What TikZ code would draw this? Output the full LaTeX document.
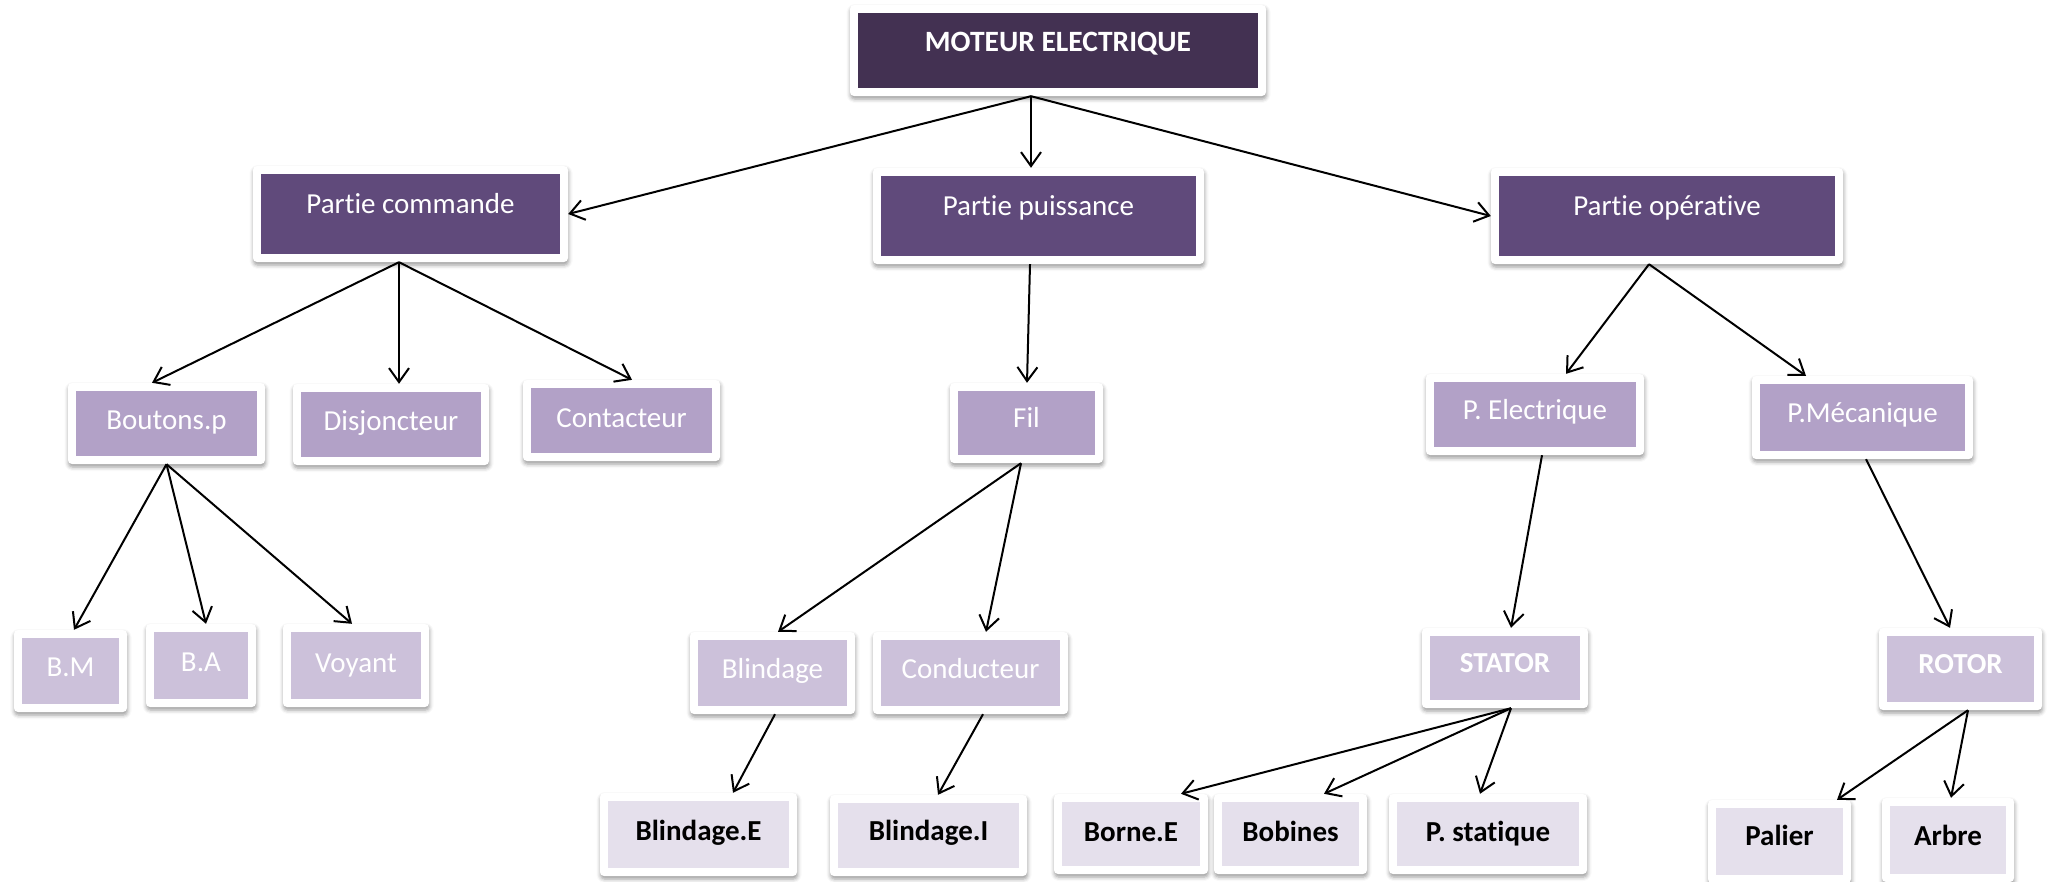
\documentclass[tikz,border=0pt]{standalone}
\usepackage{fontspec}
\setmainfont{Carlito}[Ligatures=NoCommon]
\usetikzlibrary{arrows.meta,shadows.blur}

\definecolor{topfill}{HTML}{433152}
\definecolor{lvonefill}{HTML}{604A7B}
\definecolor{lvtwofill}{HTML}{B2A1C7}
\definecolor{lvthreefill}{HTML}{CCC1DA}
\definecolor{lvfourfill}{HTML}{E5E0EC}

\tikzset{
  frame/.style={fill=white, draw=none, rounded corners=4pt, inner sep=0pt,
    blur shadow={shadow xshift=0.5pt, shadow yshift=-3pt,
      shadow blur radius=4pt, shadow opacity=40}},
  lvtop/.style={fill=topfill},
  lvone/.style={fill=lvonefill},
  lvtwo/.style={fill=lvtwofill},
  lvthree/.style={fill=lvthreefill},
  lvfour/.style={fill=lvfourfill},
  basetext/.style={anchor=base, inner sep=0pt, font=\fontsize{29}{31}\selectfont},
  lvtoptext/.style={basetext, text=white, font=\fontsize{29.5}{31}\selectfont\bfseries},
  lvonetext/.style={basetext, text=white},
  lvtwotext/.style={basetext, text=white},
  lvthreetext/.style={basetext, text=white},
  lvthreeboldtext/.style={basetext, text=white, font=\fontsize{29}{31}\selectfont\bfseries},
  lvfourtext/.style={basetext, text=black, font=\fontsize{29}{31}\selectfont\bfseries},
  arr/.style={-{Straight Barb[length=14pt,width=20pt]}, line width=2pt, black},
}

% #1 level, #2 name, #3 cx, #4 cy, #5 width, #6 height, #7 baseline offset, #8 label
\newcommand\partbox[8]{%
  \node[frame, minimum width=#5pt+16pt, minimum height=#6pt+16pt] (#2-f) at (#3,#4) {};
  \node[#1, inner sep=0pt, minimum width=#5pt, minimum height=#6pt] (#2) at (#3,#4) {};
  \node[#1text] (#2-t) at (#3,#4+#7) {#8};
}
\newcommand\partboxb[8]{%
  \node[frame, minimum width=#5pt+16pt, minimum height=#6pt+16pt] (#2-f) at (#3,#4) {};
  \node[#1, inner sep=0pt, minimum width=#5pt, minimum height=#6pt] (#2) at (#3,#4) {};
  \node[#1boldtext] (#2-t) at (#3,#4+#7) {#8};
}

\begin{document}
\begin{tikzpicture}[x=1pt, y=-1pt]
  \useasboundingbox (0,0) rectangle (2049,881);

  % root
  \partbox{lvtop}{top}{1058}{50.5}{400}{75}{0.5}{MOTEUR ELECTRIQUE}

  % first level
  \partbox{lvone}{pc}{410.5}{214}{299}{80}{-1}{Partie commande}
  \partbox{lvone}{pp}{1038.5}{216}{315}{80}{-1}{Partie puissance}
  \partbox{lvone}{po}{1667}{216}{336}{80}{-1}{Partie opérative}

  % second level
  \partbox{lvtwo}{bp}{166.5}{423.5}{181}{65}{5.5}{Boutons.p}
  \partbox{lvtwo}{dj}{391}{424.5}{180}{65}{5.5}{Disjoncteur}
  \partbox{lvtwo}{ct}{621.5}{420.5}{181}{65}{6.5}{Contacteur}
  \partbox{lvtwo}{fil}{1026.5}{423}{137}{64}{4}{Fil}
  \partbox{lvtwo}{pe}{1535}{414.5}{202}{65}{4.5}{P. Electrique}
  \partbox{lvtwo}{pm}{1862.5}{417.5}{205}{67}{4.5}{P.Mécanique}

  % third level
  \partbox{lvthree}{bm}{70.5}{671}{97}{66}{5}{B.M}
  \partbox{lvthree}{ba}{201}{665.5}{94}{67}{5.5}{B.A}
  \partbox{lvthree}{vy}{356}{665.5}{130}{67}{6.5}{Voyant}
  \partbox{lvthree}{bl}{772.5}{673}{149}{66}{5}{Blindage}
  \partbox{lvthree}{cd}{970.5}{673}{179}{66}{5}{Conducteur}
  \partboxb{lvthree}{st}{1505}{668}{150}{64}{4}{STATOR}
  \partboxb{lvthree}{rt}{1960.5}{669}{147}{66}{4}{ROTOR}

  % fourth level
  \partbox{lvfour}{be}{698.5}{834.5}{181}{67}{5.5}{Blindage.E}
  \partbox{lvfour}{bi}{928.5}{835.5}{181}{65}{4.5}{Blindage.I}
  \partbox{lvfour}{bn}{1131}{834}{138}{64}{7}{Borne.E}
  \partbox{lvfour}{bb}{1290.5}{834}{137}{64}{7}{Bobines}
  \partbox{lvfour}{ps}{1488}{834}{182}{64}{7}{P. statique}
  \partbox{lvfour}{pl}{1779.5}{841.5}{127}{67}{3.5}{Palier}
  \partbox{lvfour}{ar}{1948}{840}{116}{68}{5}{Arbre}

  % connectors
  \draw[arr] ([xshift=-27pt]top-f.south) -- (pc-f.east);
  \draw[arr] ([xshift=-27pt]top-f.south) -- ([xshift=-7.5pt]pp-f.north);
  \draw[arr] ([xshift=-27pt]top-f.south) -- (po-f.west);

  \draw[arr] ([xshift=-11.5pt]pc-f.south) -- ([xshift=-14.5pt]bp-f.north);
  \draw[arr] ([xshift=-11.5pt]pc-f.south) -- ([xshift=8pt]dj-f.north);
  \draw[arr] ([xshift=-11.5pt]pc-f.south) -- ([xshift=10.5pt]ct-f.north);

  \draw[arr] (bp-f.south) -- ([xshift=3.5pt]bm-f.north);
  \draw[arr] (bp-f.south) -- ([xshift=5pt]ba-f.north);
  \draw[arr] (bp-f.south) -- ([xshift=-4pt]vy-f.north);

  \draw[arr] ([xshift=-8.5pt]pp-f.south) -- ([xshift=0.5pt]fil-f.north);
  \draw[arr] ([xshift=-5.5pt]fil-f.south) -- ([xshift=5.5pt]bl-f.north);
  \draw[arr] ([xshift=-5.5pt]fil-f.south) -- ([xshift=15.5pt]cd-f.north);
  \draw[arr] ([xshift=2.5pt]bl-f.south) -- ([xshift=34.5pt]be-f.north);
  \draw[arr] ([xshift=12.5pt]cd-f.south) -- ([xshift=9.5pt]bi-f.north);

  \draw[arr] ([xshift=-18pt]po-f.south) -- ([xshift=31pt]pe-f.north);
  \draw[arr] ([xshift=-18pt]po-f.south) -- ([xshift=-56.5pt]pm-f.north);
  \draw[arr] ([xshift=7pt]pe-f.south) -- ([xshift=6pt]st-f.north);
  \draw[arr] ([xshift=3.5pt]pm-f.south) -- ([xshift=-10.5pt]rt-f.north);

  \draw[arr] ([xshift=6pt]st-f.south) -- ([xshift=50pt]bn-f.north);
  \draw[arr] ([xshift=6pt]st-f.south) -- ([xshift=33.5pt]bb-f.north);
  \draw[arr] ([xshift=6pt]st-f.south) -- ([xshift=-8pt]ps-f.north);
  \draw[arr] ([xshift=7.5pt]rt-f.south) -- ([xshift=57.5pt]pl-f.north);
  \draw[arr] ([xshift=7.5pt]rt-f.south) -- ([xshift=3pt]ar-f.north);
\end{tikzpicture}
\end{document}
